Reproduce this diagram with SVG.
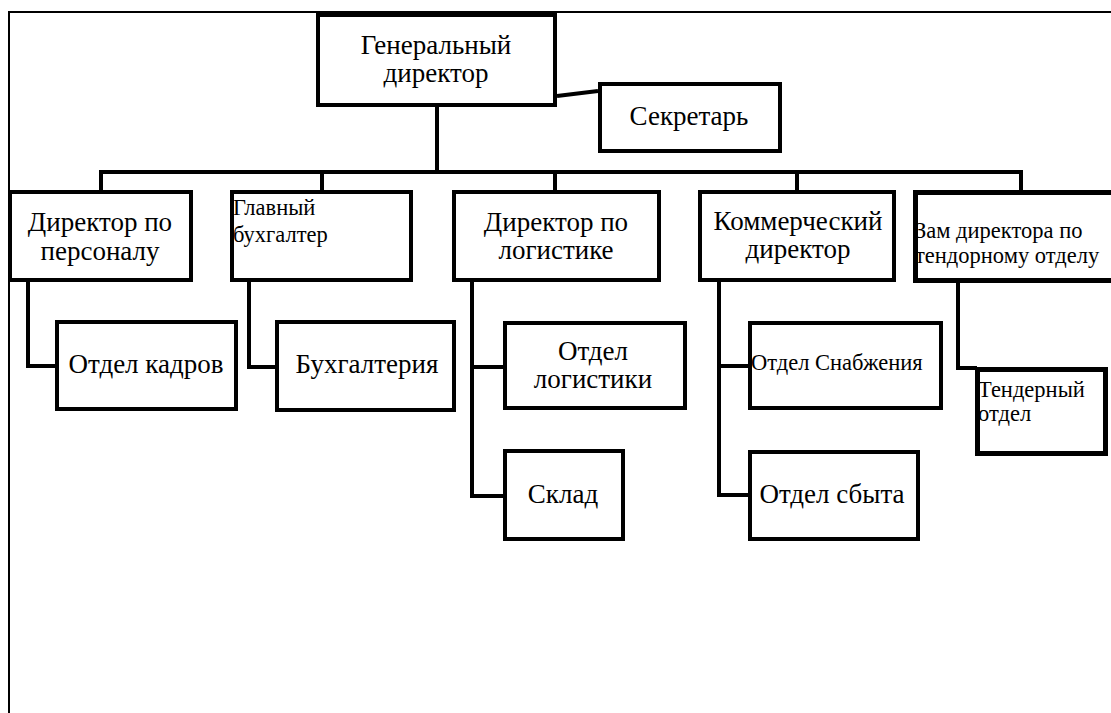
<svg xmlns="http://www.w3.org/2000/svg" width="1111" height="713" viewBox="0 0 1111 713">
<style>
.box{fill:#fff;stroke:#000;stroke-width:4}
.thick{stroke-width:5}
.conn{fill:none;stroke:#000;stroke-width:4}
.frame{fill:none;stroke:#000;stroke-width:2}
text{font-family:"Liberation Serif","Times New Roman",serif;fill:#000}
.big{font-size:27px;text-anchor:middle}
.small{font-size:22.5px}
</style>
<rect width="1111" height="713" fill="#fff"/>
<path class="frame" d="M9 713 V12 H1111"/>
<g id="connectors">
<path class="conn" d="M437 107 V172"/>
<path class="conn" d="M101 190 V172 H1021 V190"/>
<path class="conn" d="M322 172 V190 M555 172 V190 M797 172 V190"/>
<path class="conn" d="M557 96 L598 91"/>
<path class="conn" d="M28 282 V366 H57"/>
<path class="conn" d="M249 282 V367 H277"/>
<path class="conn" d="M472 282 V496 H505 M472 367 H505"/>
<path class="conn" d="M719 282 V495 H750 M719 366 H750"/>
<path class="conn" d="M958 282 V368 H977"/>
</g>
<g id="gen">
<rect class="box" x="318" y="15" width="237" height="90"/>
<text class="big" x="436" y="54">Генеральный</text>
<text class="big" x="436" y="82">директор</text>
</g>
<g id="secretary">
<rect class="box" x="600" y="84" width="180" height="67"/>
<text class="big" x="689" y="125">Секретарь</text>
</g>
<g id="hr-director">
<rect class="box" x="10" y="192" width="181" height="88"/>
<text class="big" x="100" y="231">Директор по</text>
<text class="big" x="100" y="260">персоналу</text>
</g>
<g id="chief-accountant">
<rect class="box" x="232" y="192" width="179" height="88"/>
<text class="small" x="233" y="215">Главный</text>
<text class="small" x="233" y="242">бухгалтер</text>
</g>
<g id="logistics-director">
<rect class="box" x="454" y="192" width="205" height="88"/>
<text class="big" x="556" y="231">Директор по</text>
<text class="big" x="556" y="259">логистике</text>
</g>
<g id="commercial-director">
<rect class="box" x="700" y="192" width="194" height="88"/>
<text class="big" x="798" y="230">Коммерческий</text>
<text class="big" x="798" y="258">директор</text>
</g>
<g id="tender-deputy">
<rect class="box thick" x="915.5" y="192.5" width="210" height="88"/>
<text class="small" x="915" y="238">Зам директора по</text>
<text class="small" x="915" y="263">тендорному отделу</text>
</g>
<g id="hr-dept">
<rect class="box" x="57" y="322" width="179" height="87"/>
<text class="big" x="146" y="373">Отдел кадров</text>
</g>
<g id="accounting">
<rect class="box" x="277" y="322" width="177" height="88"/>
<text class="big" x="367" y="373">Бухгалтерия</text>
</g>
<g id="logistics-dept">
<rect class="box" x="505" y="323" width="180" height="85"/>
<text class="big" x="593" y="360">Отдел</text>
<text class="big" x="593" y="388">логистики</text>
</g>
<g id="warehouse">
<rect class="box" x="505" y="451" width="118" height="88"/>
<text class="big" x="563" y="503">Склад</text>
</g>
<g id="supply-dept">
<rect class="box" x="750" y="323" width="191" height="85"/>
<text class="small" x="751" y="370">Отдел Снабжения</text>
</g>
<g id="sales-dept">
<rect class="box" x="750" y="452" width="168" height="87"/>
<text class="big" x="832" y="503">Отдел сбыта</text>
</g>
<g id="tender-dept">
<rect class="box thick" x="977.5" y="369.5" width="128" height="84"/>
<text class="small" x="978" y="397">Тендерный</text>
<text class="small" x="978" y="421">отдел</text>
</g>
</svg>
